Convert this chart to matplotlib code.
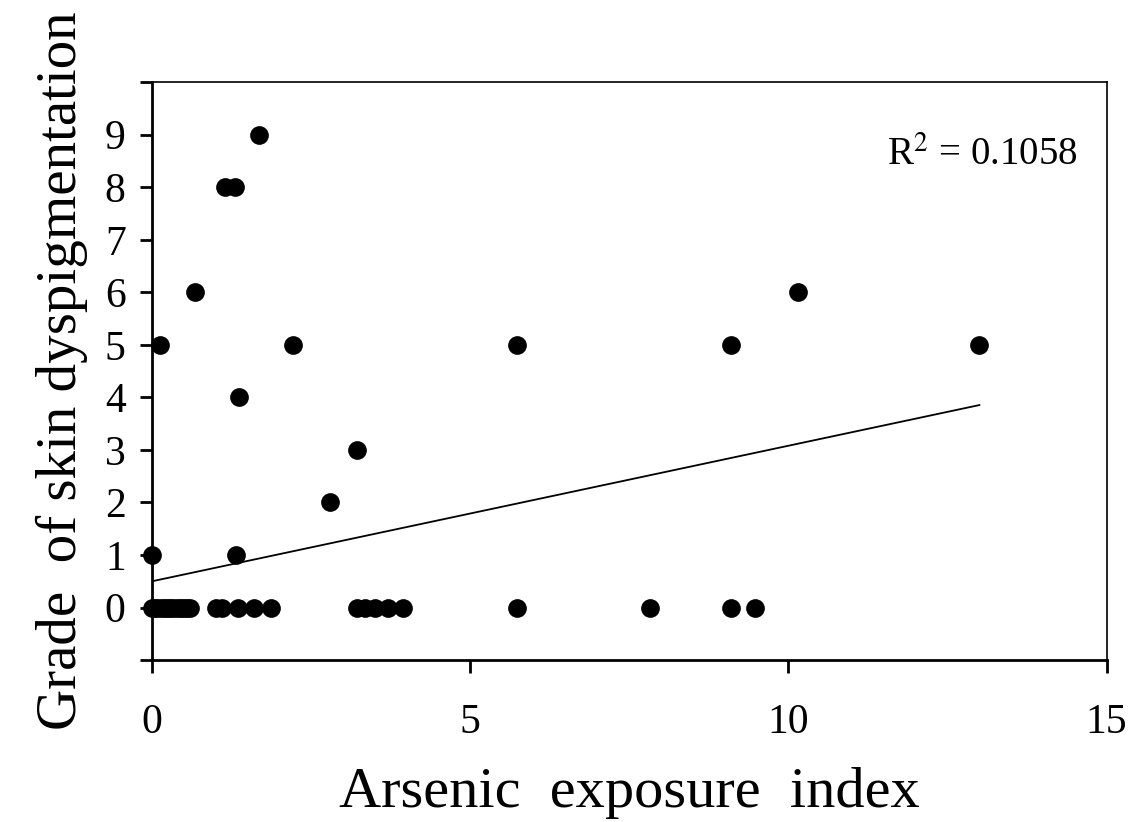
import matplotlib
matplotlib.use("Agg")
import matplotlib.pyplot as plt
import numpy as np

# data
exposure = [0.0, 0.05, 0.1, 0.15, 0.2, 0.25, 0.3, 0.35, 0.4, 0.45, 0.5, 0.55, 0.6,
            1.0, 1.1, 1.35, 1.6, 1.87,
            3.22, 3.35, 3.5, 3.7, 3.95,
            5.73, 7.83, 9.09, 9.47,
            0.0, 1.32, 2.79, 3.22, 1.37,
            0.13, 2.21, 5.73, 9.1, 13.0,
            0.68, 10.15, 1.15, 1.30, 1.68]
grade = [0] * 27 + [1, 1, 2, 3, 4, 5, 5, 5, 5, 5, 6, 6, 8, 8, 9]

fit_intercept = 0.5
fit_slope = 0.258
fit_xmax = 13.0
r2_text = "R$^2$ = 0.1058"

plt.rcParams["font.family"] = ["Liberation Serif", "DejaVu Serif"]
plt.rcParams["mathtext.fontset"] = "stix"

fig = plt.figure(figsize=(11.35, 8.22), dpi=100)
ax = fig.add_axes([0.134, 0.197, 0.841, 0.703])

ax.scatter(exposure, grade, s=155, color="black", zorder=3, clip_on=False)
xs = np.array([0, fit_xmax])
ax.plot(xs, fit_intercept + fit_slope * xs, color="black", lw=1.3)

ax.set_xlim(0, 15)
ax.set_ylim(-1, 10)
ax.set_xticks([0, 5, 10, 15])
ax.set_yticks(range(-1, 11))
ax.set_yticklabels([""] + [str(i) for i in range(10)] + [""])
ax.tick_params(direction="out", length=9, width=2, labelsize=30, pad=10)
ax.tick_params(axis="x", pad=22)
for sp in ax.spines.values():
    sp.set_linewidth(2)
for sp in ["top", "right"]:
    ax.spines[sp].set_linewidth(1.2)

ax.set_xlabel("Arsenic  exposure  index", fontsize=42, labelpad=18)
ax.set_ylabel("Grade  of skin dyspigmentation", fontsize=41, labelpad=12)
ax.text(0.97, 0.874, r2_text, transform=ax.transAxes, ha="right", va="center",
        fontsize=28)

fig.savefig("out.png", dpi=100)
